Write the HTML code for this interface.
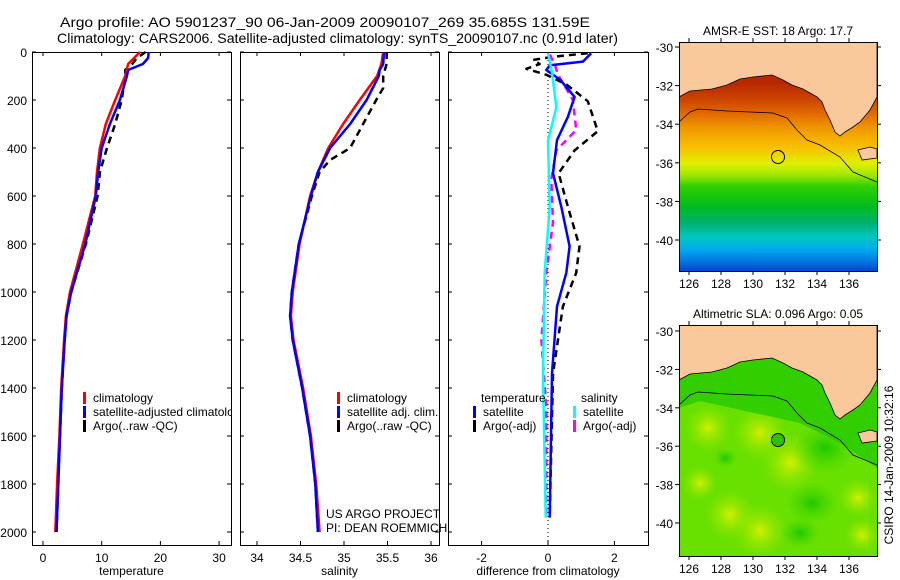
<!DOCTYPE html>
<html><head><meta charset="utf-8"><style>
body{margin:0;background:#fff;}
svg{display:block;font-family:"Liberation Sans",sans-serif;}
text{fill:#000;}
</style></head><body>
<svg id="fig" width="900" height="580" viewBox="0 0 900 580" xmlns="http://www.w3.org/2000/svg">
<defs>
<linearGradient id="sstg" x1="0" y1="0" x2="0" y2="1">
<stop offset="0.18" stop-color="#b82800"/>
<stop offset="0.25" stop-color="#cc4400"/>
<stop offset="0.31" stop-color="#e06800"/>
<stop offset="0.38" stop-color="#f09a00"/>
<stop offset="0.46" stop-color="#f8c000"/>
<stop offset="0.53" stop-color="#e0f000"/>
<stop offset="0.58" stop-color="#a0e800"/>
<stop offset="0.63" stop-color="#30d000"/>
<stop offset="0.72" stop-color="#00bc20"/>
<stop offset="0.79" stop-color="#00b070"/>
<stop offset="0.85" stop-color="#00c8c0"/>
<stop offset="0.91" stop-color="#00a8f0"/>
<stop offset="1" stop-color="#0048d0"/>
</linearGradient>
<radialGradient id="yb"><stop offset="0" stop-color="#d0f000"/><stop offset="1" stop-color="#90e800" stop-opacity="0"/></radialGradient>
<radialGradient id="gb"><stop offset="0" stop-color="#20c800"/><stop offset="1" stop-color="#40d800" stop-opacity="0"/></radialGradient>
<clipPath id="c1"><rect x="679" y="42" width="198" height="229"/></clipPath>
<clipPath id="c2"><rect x="679" y="325" width="198" height="231"/></clipPath>
<clipPath id="cT"><rect x="32" y="52" width="199" height="493"/></clipPath>
</defs>
<text x="60" y="27" font-size="14" textLength="530" lengthAdjust="spacingAndGlyphs">Argo profile: AO 5901237_90 06-Jan-2009 20090107_269 35.685S 131.59E</text>
<text x="57" y="43" font-size="14" textLength="561" lengthAdjust="spacingAndGlyphs">Climatology: CARS2006. Satellite-adjusted climatology: synTS_20090107.nc (0.91d later)</text>
<g id="plots"></g>
<g id="maps"></g>
<text transform="translate(893,465) rotate(-90)" text-anchor="middle" font-size="12">CSIRO 14-Jan-2009 10:32:16</text>
</svg>
<script>
// ---- data ----
const tClimDepth=[0,50,100,200,300,400,500,600,800,1000,1100,1200,1400,1600,1800,2000];
const tClim=[16.5,14.5,14.0,12.3,10.7,9.7,9.2,8.9,6.8,4.6,3.9,3.6,3.1,2.8,2.4,2.1];
const tSatDepth=[0,25,50,75,100,200,300,400,500,600,800,1000,1100,1200,1400,1600,1800,2000];
const tSat=[18,17.9,17,14.5,14.3,13.1,11.4,10,9.4,9.0,7.2,4.8,4.0,3.7,3.2,2.9,2.6,2.3];
const tArgoDepth=[0,25,50,75,100,200,300,400,500,600,800,1000,1100,1200,1400,1600,1800,2000];
const tArgo=[17.5,16,15.2,14,14,13.4,12.3,10.9,9.7,9.3,7.3,4.8,4.0,3.7,3.2,2.9,2.6,2.3];
const sClimDepth=[0,50,100,200,300,400,500,600,800,1000,1100,1200,1400,1600,1800,2000];
const sClim=[35.45,35.43,35.38,35.18,34.99,34.82,34.7,34.61,34.49,34.41,34.39,34.42,34.53,34.62,34.68,34.72];
const sSatDepth=[0,50,75,100,200,300,400,500,600,800,1000,1100,1200,1400,1600,1800,2000];
const sSat=[35.46,35.45,35.41,35.4,35.26,35.07,34.84,34.7,34.62,34.48,34.4,34.38,34.41,34.52,34.61,34.67,34.7];
const sArgoDepth=[0,50,100,150,200,300,400,450,500,600,800,1000,1100,1200,1400,1600,1800,2000];
const sArgo=[35.49,35.49,35.45,35.45,35.37,35.22,35.07,34.84,34.72,34.63,34.48,34.4,34.38,34.41,34.52,34.61,34.67,34.7];
const dTSatDepth=[5,40,55,75,115,187,270,367,505,645,810,920,1060,1340,1940];
const dTSat=[1.3,1.05,0.06,-0.05,0.36,0.8,0.6,0.27,0.15,0.4,0.65,0.55,0.27,0.12,0.05];
const dTArgoDepth=[5,20,33,50,70,95,135,205,330,410,505,645,810,920,1060,1340,1940];
const dTArgo=[1.2,0.15,-0.45,-0.25,-0.65,-0.05,0.55,1.2,1.5,0.8,0.32,0.6,0.95,0.85,0.45,0.15,0.05];
const dSSatDepth=[5,85,230,370,645,920,1340,1940];
const dSSat=[0,0.12,0.25,0,0.05,-0.1,-0.15,-0.07];
const dSArgoDepth=[10,50,95,200,325,410,530,710,920,1200,1480,1940];
const dSArgo=[0.05,0.2,0.3,0.75,0.85,0.25,0.1,0.15,-0.05,-0.2,-0.05,-0.05];
const depthTicks=[0,200,400,600,800,1000,1200,1400,1600,1800,2000];
const tTicks=[0,10,20,30];
const sTicks=[34,34.5,35,35.5,36];
const dTicks=[-2,0,2];
const latTicks=[-30,-32,-34,-36,-38,-40];
const lonTicks=[126,128,130,132,134,136];

const NS="http://www.w3.org/2000/svg";
const Y0=52,YS=0.24,YB=545;
const yD=d=>Y0+d*YS;
function mk(tag,attrs,parent){const e=document.createElementNS(NS,tag);for(const k in attrs)e.setAttribute(k,attrs[k]);parent.appendChild(e);return e;}
const plots=document.getElementById('plots');

function panel(name,x0,x1,xScale,ticks,label,showY){
  const g=mk('g',{},plots);
  
  
  const r=mk('rect',{x:x0+0.5,y:Y0+0.5,width:x1-x0,height:YB-Y0,fill:'none',stroke:'#000','stroke-width':1},g);
  
  
  depthTicks.forEach(d=>{
    const y=yD(d);
    mk('line',{x1:x0,x2:x0+4,y1:y,y2:y,stroke:'#000'},g);
    mk('line',{x1:x1-4,x2:x1,y1:y,y2:y,stroke:'#000'},g);
    if(showY){const t=mk('text',{x:x0-5,y:y+5,'text-anchor':'end','font-size':12},g);t.textContent=d;
      
      }
  });
  ticks.forEach(v=>{
    const x=xScale(v);
    mk('line',{x1:x,x2:x,y1:YB,y2:YB-4,stroke:'#000'},g);
    mk('line',{x1:x,x2:x,y1:Y0,y2:Y0+4,stroke:'#000'},g);
    const t=mk('text',{x:x,y:YB+17,'text-anchor':'middle','font-size':12},g);t.textContent=v;
    
    
  });
  const t=mk('text',{x:(x0+x1)/2,y:575,'text-anchor':'middle','font-size':12},g);t.textContent=label;
  
  
  return g;
}
function line(g,name,depths,vals,xScale,color,dash){
  const pts=depths.map((d,i)=>xScale(vals[i]).toFixed(1)+','+yD(d).toFixed(1)).join(' ');
  const p=mk('polyline',{points:pts,fill:'none',stroke:color,'stroke-width':2.5,'stroke-linejoin':'round'},g);
  if(dash)p.setAttribute('stroke-dasharray',dash);
  
  
}
function legend(g,x,y,color,txt){
  mk('rect',{x:x,y:y-10,width:3,height:12,fill:color},g);
  const t=mk('text',{x:x+10,y:y,'font-size':12},g);t.textContent=txt;
  
  
}
// temperature
const xT=v=>43+v*5.87;
const gT=panel('temperature-panel',32,231,xT,tTicks,'temperature',true);
line(gT,'temp-argo-line',tArgoDepth,tArgo,xT,'#000','7,5');
line(gT,'temp-climatology-line',tClimDepth,tClim,xT,'#f00');
line(gT,'temp-satellite-line',tSatDepth,tSat,xT,'#00f');
const gTL=mk('g',{'clip-path':'url(#cT)'},gT);
legend(gTL,83,402,'#f00','climatology');
legend(gTL,83,416,'#00f','satellite-adjusted climatology');
legend(gTL,83,430,'#000','Argo(..raw -QC)');
// salinity
const xS=v=>257+(v-34)*87;
const gS=panel('salinity-panel',240,439,xS,sTicks,'salinity',false);
line(gS,'sal-argo-line',sArgoDepth,sArgo,xS,'#000','7,5');
line(gS,'sal-climatology-line',sClimDepth,sClim,xS,'#f00');
line(gS,'sal-satellite-line',sSatDepth,sSat,xS,'#00f');
legend(gS,337,402,'#f00','climatology');
legend(gS,337,416,'#00f','satellite adj. clim.');
legend(gS,337,430,'#000','Argo(..raw -QC)');
let t=mk('text',{x:326,y:518,'font-size':12},gS);t.textContent='US ARGO PROJECT';
t=mk('text',{x:326,y:532,'font-size':12},gS);t.textContent='PI: DEAN ROEMMICH';
// difference
const xD=v=>548+v*33.2;
const gD=panel('difference-panel',448,648,xD,dTicks,'difference from climatology',false);
mk('line',{x1:xD(0),x2:xD(0),y1:Y0,y2:YB,stroke:'#000','stroke-dasharray':'1,3'},gD);
line(gD,'dT-argo-line',dTArgoDepth,dTArgo,xD,'#000','7,5');
line(gD,'dS-argo-line',dSArgoDepth,dSArgo,xD,'#f0f','7,5');
line(gD,'dT-satellite-line',dTSatDepth,dTSat,xD,'#00f');
line(gD,'dS-satellite-line',dSSatDepth,dSSat,xD,'#0ff');
t=mk('text',{x:481,y:402,'font-size':12},gD);t.textContent='temperature';
t=mk('text',{x:581,y:402,'font-size':12},gD);t.textContent='salinity';
legend(gD,473,416,'#00f','satellite');
legend(gD,573,416,'#0ff','satellite');
legend(gD,473,430,'#000','Argo(-adj)');
legend(gD,573,430,'#f0f','Argo(-adj)');

// ---- maps ----
const maps=document.getElementById('maps');
const coast=[[679,97],[690,91],[712,89],[727,85],[740,79],[753,77],[772,75],[783,80],[792,85],[803,89],[810,93],[817,97],[822,102],[825,110],[830,120],[835,132],[840,136],[845,132],[853,127],[860,122],[870,110],[877,97]];
const contour=[[679,122],[690,112],[698,109],[727,111],[750,112],[773,113],[787,118],[797,130],[807,140],[820,145],[840,157],[853,172],[877,182]];
function map(name,top,h,title,fillType,latPx){
  const g=mk('g',{},maps);
  
  
  const off=top-42;
  const cg=mk('g',{'clip-path':fillType==='sst'?'url(#c1)':'url(#c2)'},g);
  if(fillType==='sst'){
    mk('rect',{x:679,y:top,width:198,height:h,fill:'url(#sstg)'},cg);
  }else{
    mk('rect',{x:679,y:top,width:198,height:h,fill:'#68e000'},cg);
    [[708,145,24],[760,150,28],[790,180,30],[730,232,26],[760,248,28],[858,215,20],[862,252,18],[700,200,18]].forEach(b=>mk('ellipse',{cx:b[0],cy:b[1]+off,rx:b[2],ry:b[2],fill:'url(#yb)'},cg));
    [[825,165,32],[812,220,26],[725,175,12],[800,250,20]].forEach(b=>mk('ellipse',{cx:b[0],cy:b[1]+off,rx:b[2],ry:b[2]*0.8,fill:'url(#gb)'},cg));
    mk('polygon',{points:'679,60 877,60 877,185 840,160 800,140 700,118 679,125',fill:'#20c800','transform':'translate(0,'+off+')',opacity:0.75},cg);
  }
  const land='679,'+top+' '+coast.map(p=>p[0]+','+(p[1]+off)).join(' ')+' 877,'+top;
  const L=mk('polygon',{points:land,fill:'#f9c89b',stroke:'#000','stroke-width':0.8},cg);
  
  
  mk('polygon',{points:[[858,150],[870,147],[877,149],[877,158],[862,160]].map(p=>p[0]+','+(p[1]+off)).join(' '),fill:'#f9c89b',stroke:'#000','stroke-width':0.8},cg);
  mk('polyline',{points:contour.map(p=>p[0]+','+(p[1]+off)).join(' '),fill:'none',stroke:'#000','stroke-width':0.8},cg);
  const c=mk('circle',{cx:778,cy:157+off,r:6.5,fill:fillType==='sst'?'none':'#30c000',stroke:'#000','stroke-width':1},g);
  
  
  mk('rect',{x:679.5,y:top+0.5,width:198,height:h,fill:'none',stroke:'#000'},g);
  latTicks.forEach((v,i)=>{
    const y=latPx(v);
    mk('line',{x1:679,x2:675,y1:y,y2:y,stroke:'#000'},g);
    mk('line',{x1:877,x2:881,y1:y,y2:y,stroke:'#000'},g);
    const tt=mk('text',{x:673,y:y+5,'text-anchor':'end','font-size':12},g);tt.textContent=v;
    
    
  });
  lonTicks.forEach(v=>{
    const x=689+(v-126)*16;
    mk('line',{x1:x,x2:x,y1:top,y2:top-4,stroke:'#000'},g);
    mk('line',{x1:x,x2:x,y1:top+h,y2:top+h+4,stroke:'#000'},g);
    const tt=mk('text',{x:x,y:top+h+17,'text-anchor':'middle','font-size':12},g);tt.textContent=v;
    
    
  });
  const tt=mk('text',{x:778,y:top-7,'text-anchor':'middle','font-size':12},g);tt.textContent=title;
  
  
}
map('sst-map',42,229,'AMSR-E SST: 18 Argo: 17.7','sst',v=>47+(-30-v)*19.3);
map('sla-map',325,231,'Altimetric SLA: 0.096 Argo: 0.05','sla',v=>331+(-30-v)*19.2);
</script>
</body></html>
